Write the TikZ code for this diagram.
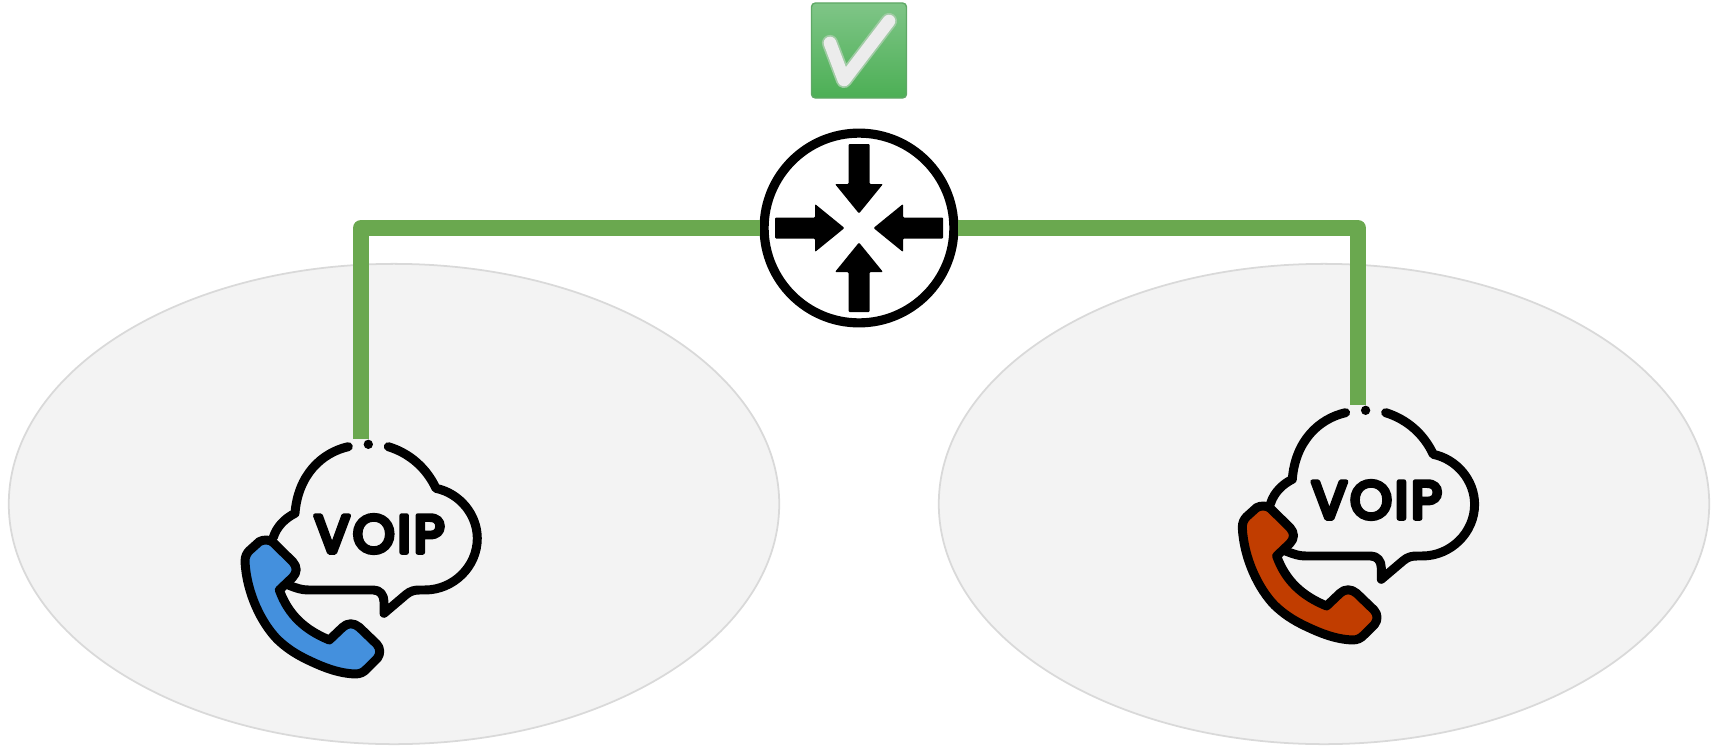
\documentclass[tikz,border=0pt]{standalone}
\usepackage{fontspec}
\usepackage{xcolor}
\usetikzlibrary{calc,shapes.geometric}
\newfontfamily\voipfont{Poppins}[LetterSpace=6]
\newcommand{\roundletters}[1]{\special{pdf:code q 2 Tr 1 j 1 J 1.35 w}#1\special{pdf:code Q}}
\definecolor{zonegray}{HTML}{F3F3F3}
\definecolor{zoneline}{HTML}{D9D9D9}
\definecolor{linkgreen}{HTML}{6AA84F}
\definecolor{phoneblue}{HTML}{4490DD}
\definecolor{phonered}{HTML}{C13D00}
\definecolor{oktop}{HTML}{7FC587}
\definecolor{okbottom}{HTML}{4CAF55}
\definecolor{okline}{HTML}{5FA866}
\tikzset{zone/.style = {shape=ellipse,draw=zoneline,fill=zonegray,line width=.5pt,minimum width=7.7cm,minimum height=4.8cm,inner sep=0pt}}
\tikzset{link/.style = {draw=linkgreen,line width=4.55pt,line join=round}}
\tikzset{router/.style = {shape=circle,draw=black,fill=white,line width=2.6pt,minimum size=5.5cm/2.9,inner sep=0pt}}
\tikzset{okbox/.style = {shape=rectangle,rounded corners=.4mm,draw=okline,line width=.4pt,top color=oktop,bottom color=okbottom,minimum size=.95cm,inner sep=0pt}}
\tikzset{iconline/.style = {draw=black,line width=2.55pt,line cap=round,line join=round}}
\tikzset{pics/voipicon/.style = {code={
\begin{scope}[scale=.3333]
\draw[iconline] (385,80) .. controls (305,98) and (234,165) .. (225,280) .. controls (195,295) and (170,320) .. (160,352);
\draw[iconline] (505,80) .. controls (570,100) and (620,145) .. (648,205) .. controls (720,220) and (772,285) .. (772,355) .. controls (772,440) and (700,510) .. (615,510) -- (600,510) .. controls (585,510) and (572,512) .. (558,524) -- (492,580) -- (492,545) .. controls (492,525) and (480,510) .. (460,510) -- (265,510) .. controls (245,510) and (230,505) .. (205,495);
\fill (445,73) circle (14);
\node[inner sep=0pt,font=\voipfont\fontsize{15}{15}\selectfont] (word) at (478,342) {\roundletters{VOIP}};
\draw[iconline,fill=#1] (75,425) .. controls (75,410) and (80,400) .. (88,392) -- (118,365) .. controls (130,358) and (150,358) .. (160,368) -- (218,425) .. controls (232,440) and (232,458) .. (218,472) -- (178,510) .. controls (205,585) and (255,630) .. (328,660) -- (368,622) .. controls (382,608) and (402,608) .. (418,622) -- (470,672) .. controls (482,685) and (482,702) .. (472,715) -- (442,745) .. controls (430,758) and (420,762) .. (405,762) .. controls (355,760) and (310,742) .. (268,722) .. controls (225,702) and (197,682) .. (172,658) .. controls (125,610) and (80,520) .. (75,425) -- cycle;
\end{scope}
}}}

\begin{document}
\begin{tikzpicture}[x=.01cm,y=-.01cm]
\useasboundingbox (0,0) rectangle (1723,748);
\node[zone] (leftzone) at (394,504) {};
\node[zone] (rightzone) at (1324,504) {};
%
\node[okbox] (ok) at (859,50.5) {};
\draw[line width=4.6pt,line cap=round,line join=round,draw=okline!60!white] (830,43) -- (844,80) -- (889,21);
\draw[line width=3.6pt,line cap=round,line join=round,draw=gray!15] (830,43) -- (844,80) -- (889,21);
%
\node[router] (core) at (859,228) {};
\foreach \ang in {0,90,180,270}
  \fill[shift={(core)},rotate=\ang,rounded corners=.1mm] (84,-10.5) -- (44,-10.5) -- (44,-24) -- (14.5,0) -- (44,24) -- (44,10.5) -- (84,10.5) -- cycle;
%
\coordinate (leftend) at (361,439);
\coordinate (rightend) at (1358,405);
\draw[link] (core.west) -| (leftend);
\draw[link] (core.east) -| (rightend);
%
\pic (leftphone) at (220,420) {voipicon=phoneblue};
\pic (rightphone) at (1217.3,386) {voipicon=phonered};
\end{tikzpicture}
\end{document}
